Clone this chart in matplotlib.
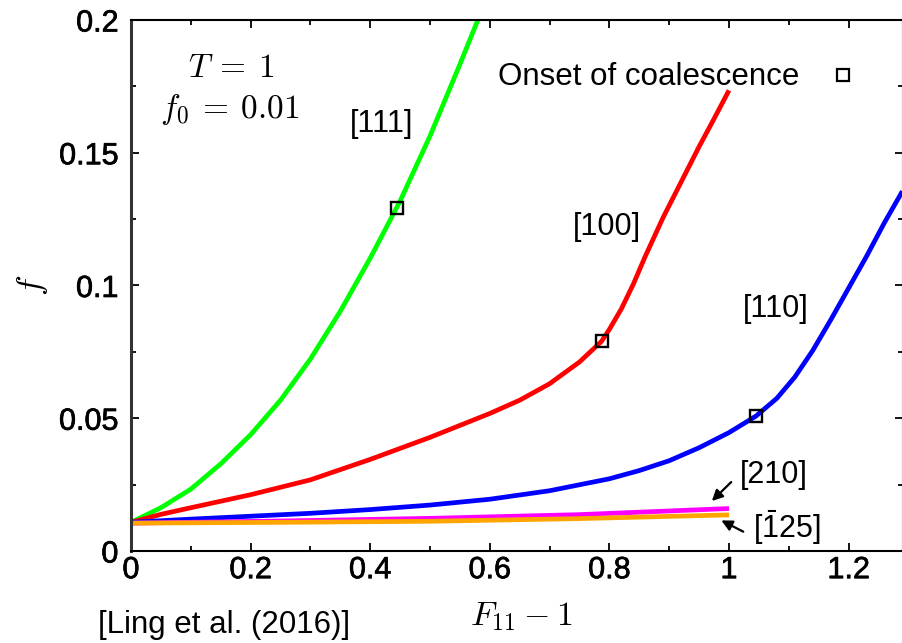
import matplotlib
matplotlib.use("Agg")
import matplotlib.pyplot as plt
import matplotlib.patheffects as pe
from matplotlib.ticker import MultipleLocator, FuncFormatter

plt.rcParams['font.family'] = ['Liberation Sans', 'DejaVu Sans']
plt.rcParams['mathtext.fontset'] = 'custom'
plt.rcParams['mathtext.rm'] = 'Liberation Sans'
plt.rcParams['mathtext.it'] = 'Liberation Sans:italic'

# ---- data ----
x_111 = [0.0, 0.05, 0.10, 0.15, 0.20, 0.25, 0.30, 0.35, 0.40, 0.45, 0.50, 0.55, 0.58]
f_111 = [0.0108, 0.0163, 0.0233, 0.0328, 0.0438, 0.0568, 0.0723, 0.0903, 0.1103, 0.1318, 0.1563, 0.1833, 0.2000]

x_100 = [0.0, 0.05, 0.10, 0.20, 0.30, 0.40, 0.50, 0.60, 0.65, 0.70, 0.75, 0.787, 0.80, 0.82, 0.84, 0.86, 0.89, 0.92, 0.95, 0.975, 1.0]
f_100 = [0.0108, 0.0138, 0.0163, 0.0212, 0.0268, 0.0345, 0.0428, 0.0518, 0.0568, 0.0630, 0.0712, 0.0790, 0.0835, 0.0912, 0.1005, 0.1110, 0.1257, 0.1390, 0.1523, 0.1628, 0.1735]

x_110 = [0.0, 0.10, 0.20, 0.30, 0.40, 0.50, 0.60, 0.70, 0.80, 0.85, 0.90, 0.95, 1.0, 1.045, 1.08, 1.11, 1.14, 1.17, 1.20, 1.23, 1.26, 1.29]
f_110 = [0.0108, 0.0120, 0.0131, 0.0142, 0.0156, 0.0173, 0.0195, 0.0227, 0.0272, 0.0303, 0.0340, 0.0389, 0.0446, 0.0508, 0.0575, 0.0655, 0.0755, 0.0870, 0.0990, 0.1110, 0.1237, 0.1355]

x_210 = [0.0, 0.25, 0.50, 0.75, 1.0]
f_210 = [0.0105, 0.0113, 0.0123, 0.0137, 0.0160]

x_125 = [0.0, 0.25, 0.50, 0.75, 1.0]
f_125 = [0.0105, 0.0108, 0.0112, 0.0122, 0.0136]

onset_x = [0.444, 0.787, 1.045]
onset_f = [0.1292, 0.0790, 0.0508]

W, H = 902, 643
fig = plt.figure(figsize=(W / 100, H / 100), dpi=100)
ax = fig.add_axes([131 / W, 1 - 551 / H, 772 / W, 531 / H])

def fx(px):
    return px / W

def fy(py):
    return 1 - py / H

LW = 3.4
ax.plot(x_111, f_111, color='#00ff00', lw=LW, solid_capstyle='butt')
ax.plot(x_100, f_100, color='#ff0000', lw=LW, solid_capstyle='butt')
ax.plot(x_110, f_110, color='#0000ff', lw=LW, solid_capstyle='butt')
ax.plot(x_210, f_210, color='#ff00ff', lw=LW, solid_capstyle='butt')
ax.plot(x_125, f_125, color='#ffa500', lw=LW, solid_capstyle='butt')
ax.plot(onset_x, onset_f, ls='none', marker='s', ms=9, mfc='none', mec='black', mew=1.7, zorder=5)

ax.set_xlim(0, 772 / 598)
ax.set_ylim(0, 0.2)
ax.xaxis.set_major_locator(MultipleLocator(0.2))
ax.xaxis.set_minor_locator(MultipleLocator(0.1))
ax.yaxis.set_major_locator(MultipleLocator(0.05))
ax.yaxis.set_minor_locator(MultipleLocator(0.025))
fmt = FuncFormatter(lambda v, p: ('%g' % round(v, 4)))
ax.xaxis.set_major_formatter(fmt)
ax.yaxis.set_major_formatter(fmt)
ax.tick_params(which='both', direction='in', top=True, right=True, width=1.3)
ax.tick_params(which='major', length=6, labelsize=22)
ax.tick_params(which='minor', length=3.5)
ax.tick_params(axis='y', pad=9)
ax.tick_params(axis='x', pad=3)
heavy = [pe.withStroke(linewidth=0.5, foreground='black')]
for lab in ax.get_xticklabels() + ax.get_yticklabels():
    lab.set_path_effects(heavy)
for s in ax.spines.values():
    s.set_linewidth(1.5)
ax.spines['left'].set_linewidth(2.2)
ax.spines['left'].set_color('#333333')

# annotations
fig.text(fx(188), fy(77), r'$T\:=\:1$', fontsize=24, math_fontfamily='cm', va='baseline', ha='left')
fig.text(fx(160), fy(118), r'$f_0\:=\:0.01$', fontsize=24, math_fontfamily='cm', va='baseline', ha='left')
fig.text(fx(498), fy(85), 'Onset of coalescence', fontsize=22.5, va='baseline', ha='left')
fig.lines.append(plt.Line2D([fx(843)], [fy(75)], transform=fig.transFigure, ls='none', marker='s',
                            ms=8, mfc='none', mec='black', mew=1.6))

fig.text(fx(350), fy(132), '[111]', fontsize=22, va='baseline', ha='left')
fig.text(fx(573), fy(235), '[100]', fontsize=22, va='baseline', ha='left')
fig.text(fx(743), fy(317), '[110]', fontsize=22, va='baseline', ha='left')
fig.text(fx(740), fy(483), '[210]', fontsize=22, va='baseline', ha='left')
fig.text(fx(753), fy(538), r'[$\mathregular{\bar{1}}$25]', fontsize=22, va='baseline', ha='left')

ax.annotate('', xy=(0.968, 0.0181), xytext=(1.007, 0.0267),
            arrowprops=dict(arrowstyle='-|>', color='black', lw=1.6, mutation_scale=16))
ax.annotate('', xy=(0.983, 0.0120), xytext=(1.028, 0.0068),
            arrowprops=dict(arrowstyle='-|>', color='black', lw=1.6, mutation_scale=16))

fig.text(fx(470), fy(625), r'$F_{11}-1$', fontsize=24.5, math_fontfamily='cm', va='baseline', ha='left')
fig.text(fx(98), fy(633), '[Ling et al. (2016)]', fontsize=22.5, va='baseline', ha='left')
fig.text(fx(32), fy(285), r'$f$', fontsize=25, math_fontfamily='cm', rotation=90, va='center', ha='center')

fig.savefig('out.png', dpi=100)
